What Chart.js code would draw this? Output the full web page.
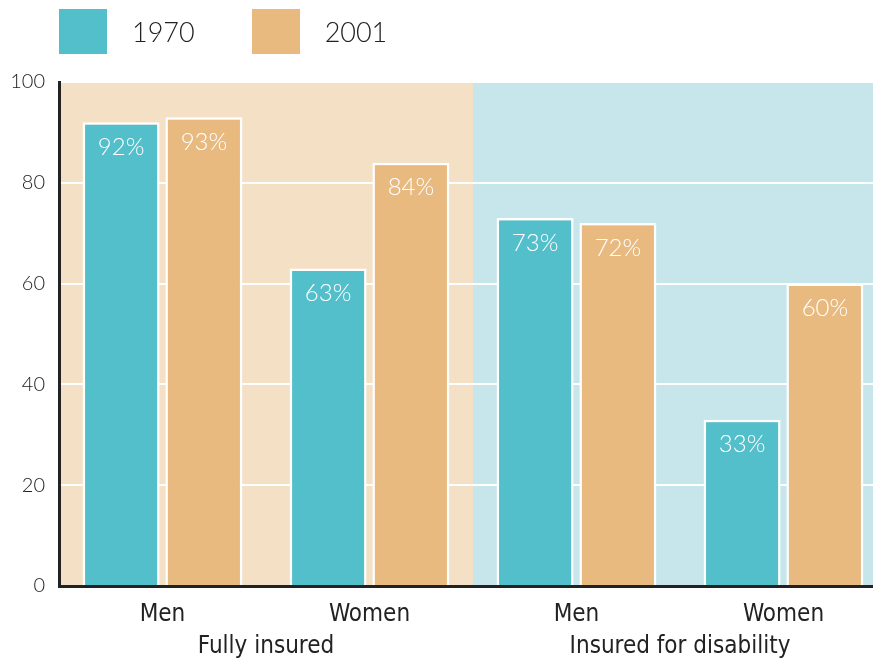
<!DOCTYPE html>
<html>
<head>
<meta charset="utf-8">
<script src="https://cdn.jsdelivr.net/npm/chart.js@4"></script>
<style>
  html, body { margin: 0; padding: 0; background: #fff; overflow: hidden; }
  #wrap { position: relative; width: 900px; height: 658px; }
  #legend { position: absolute; left: 59px; top: 9px; display: flex; align-items: center; font-family: Lato, "Open Sans", sans-serif; font-weight: 300; font-size: 27px; color: #222; }
  .item { display: flex; align-items: center; margin-right: 57px; }
  .box { width: 48px; height: 45px; margin-right: 25px; }
</style>
</head>
<body>
<div id="wrap">
  <canvas id="chart" width="900" height="658"></canvas>
  <div id="legend"></div>
</div>
<script>
(function() {
  'use strict';
  // カテゴリ
  const categories = ['Men', 'Women', 'Men', 'Women'];
  const groups = ['Fully insured', 'Insured for disability'];
  // 系列
  const seriesNames = ['1970', '2001'];
  const values1970 = [92, 63, 73, 33];
  const values2001 = [93, 84, 72, 60];
  // 目盛
  const yTicks = [0, 20, 40, 60, 80, 100];

  const colors = ['#53bfcb', '#e8ba80'];
  const bgColors = ['#f4e0c5', '#c6e6eb'];

  // 凡例
  const legendElem = document.getElementById('legend');
  seriesNames.forEach(function(name, i) {
    const item = document.createElement('div');
    item.className = 'item';
    item.innerHTML = '<div class="box" style="background:' + colors[i] + '"></div><span>' + name + '</span>';
    legendElem.appendChild(item);
  });

  // 背景
  const backgroundPlugin = {
    id: 'halves',
    beforeDraw(chart) {
      const ctx = chart.ctx;
      const area = chart.chartArea;
      const xs = chart.scales.x;
      const mid = (xs.getPixelForValue(1) + xs.getPixelForValue(2)) / 2;
      ctx.save();
      ctx.fillStyle = bgColors[0];
      ctx.fillRect(area.left, area.top, mid - area.left, area.bottom - area.top);
      ctx.fillStyle = bgColors[1];
      ctx.fillRect(mid, area.top, area.right - mid, area.bottom - area.top);
      ctx.restore();
    }
  };

  // 値ラベル
  const valueLabelPlugin = {
    id: 'valueLabels',
    afterDatasetsDraw(chart) {
      const ctx = chart.ctx;
      ctx.save();
      ctx.fillStyle = '#fff';
      ctx.font = '300 24px Lato, "Open Sans", sans-serif';
      ctx.textAlign = 'center';
      ctx.textBaseline = 'middle';
      chart.data.datasets.forEach(function(ds, di) {
        chart.getDatasetMeta(di).data.forEach(function(bar, i) {
          ctx.fillText(ds.data[i] + '%', bar.x, bar.y + 25);
        });
      });
      ctx.restore();
    }
  };

  new Chart(document.getElementById('chart').getContext('2d'), {
    type: 'bar',
    data: {
      labels: categories,
      datasets: [{
        label: seriesNames[0],
        data: values1970,
        backgroundColor: colors[0],
        borderColor: '#fff',
        borderWidth: 2.5,
      }, {
        label: seriesNames[1],
        data: values2001,
        backgroundColor: colors[1],
        borderColor: '#fff',
        borderWidth: 2.5,
      }],
    },
    options: {
      responsive: false,
      animation: false,
      events: [],
      barPercentage: 0.93,
      categoryPercentage: 0.8,
      layout: { padding: { top: 82, right: 13, left: 0, bottom: 0 } },
      plugins: {
        legend: { display: false },
        tooltip: { enabled: false },
      },
      scales: {
        y: {
          min: 0,
          max: 100,
          afterBuildTicks(scale) {
            scale.ticks = yTicks.map(function(v) { return { value: v }; });
          },
          afterFit(scale) { scale.width = 59; },
          grid: { color: '#fff', lineWidth: 2, drawTicks: false },
          border: { color: '#222', width: 3 },
          ticks: { color: '#222', padding: 14, font: { family: 'Lato, "Open Sans", sans-serif', weight: '300', size: 20 } },
        },
        x: {
          grid: { display: false },
          border: { color: '#222', width: 3 },
          afterFit(scale) { scale.height = 37; },
          ticks: { color: '#222', padding: 6, font: { family: '"Liberation Sans Narrow", "DejaVu Sans Condensed", sans-serif', size: 24 } },
        },
        x2: {
          type: 'category',
          labels: groups,
          position: 'bottom',
          offset: true,
          grid: { display: false },
          border: { display: false },
          afterFit(scale) { scale.height = 35; },
          ticks: { color: '#222', padding: 1, font: { family: '"Liberation Sans Narrow", "DejaVu Sans Condensed", sans-serif', size: 24 } },
        },
      },
    },
    plugins: [backgroundPlugin, valueLabelPlugin],
  });
})();
</script>
</body>
</html>
